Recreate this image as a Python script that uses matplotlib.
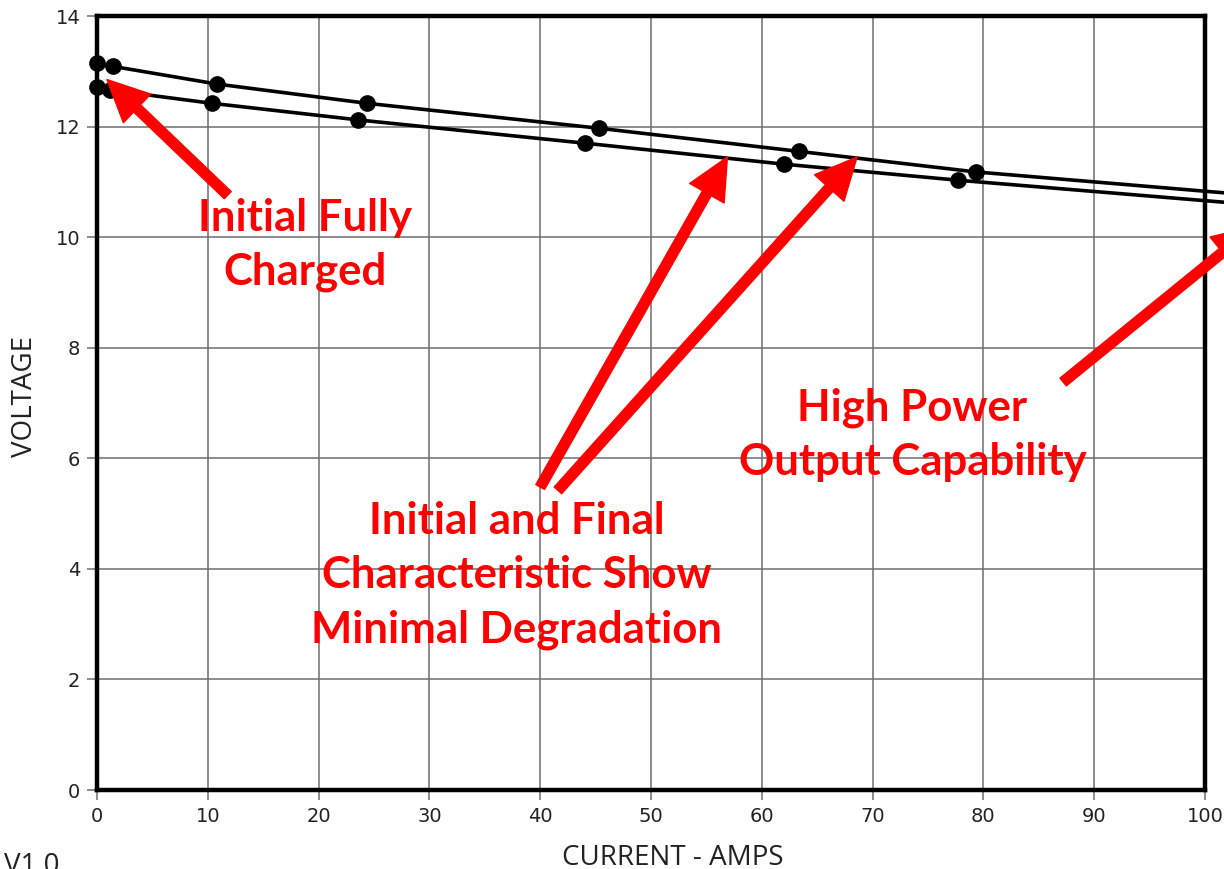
import matplotlib
matplotlib.use('Agg')
import matplotlib.pyplot as plt
from matplotlib.patches import Rectangle

# initial (fully charged) characteristic
current_initial = [0.0, 1.4, 10.8, 24.4, 45.3, 63.4, 79.3]
voltage_initial = [13.15, 13.09, 12.77, 12.42, 11.97, 11.55, 11.18]
# final characteristic
current_final = [0.0, 1.2, 10.4, 23.6, 44.0, 62.0, 77.7]
voltage_final = [12.71, 12.66, 12.42, 12.12, 11.70, 11.32, 11.03]
# curve continuation past the last measured point
ext_current = [103.0]
ext_initial = [10.78]
ext_final = [10.61]

x_ticks = list(range(0, 101, 10))
y_ticks = list(range(0, 15, 2))

RED = '#ff0000'
ANNOT_FONT = ['Lato', 'DejaVu Sans']
LABEL_FONT = ['Open Sans', 'DejaVu Sans']

fig = plt.figure(figsize=(12.24, 8.69), dpi=100)
ax = fig.add_axes([97 / 1224, 79 / 869, 1108 / 1224, 774 / 869])

ax.set_xlim(0, 100)
ax.set_ylim(0, 14)
ax.set_xticks(x_ticks)
ax.set_yticks(y_ticks)
ax.grid(True, color='#6e6e6e', linewidth=1.1, zorder=0)
ax.tick_params(direction='out', length=7, width=1.1, color='#6e6e6e',
               labelsize=14, labelcolor='#222222', pad=5)
for sp in ax.spines.values():
    sp.set_linewidth(3.2)
    sp.set_color('black')
    sp.set_zorder(6)

# white boxes behind the annotation texts (they break the grid)
for (x0, y0, w, h) in [(8.2, 8.64, 22.5, 2.44), (56.7, 5.12, 32.7, 2.44), (18.3, 1.95, 38.6, 3.6)]:
    ax.add_patch(Rectangle((x0, y0), w, h, facecolor='white', edgecolor='none', zorder=1))

for xs, ys, ext in [(current_initial, voltage_initial, ext_initial),
                    (current_final, voltage_final, ext_final)]:
    ax.plot(xs + ext_current, ys + ext, color='black', linewidth=2.6,
            clip_on=False, zorder=4, solid_capstyle='butt')
    ax.plot(xs, ys, linestyle='none', marker='o', markersize=11,
            color='black', clip_on=False, zorder=5)

txt_kw = dict(color=RED, fontsize=31.5, fontweight='bold', family=ANNOT_FONT,
              ha='center', va='center', linespacing=1.42, zorder=3)
ax.text(18.8, 9.86, 'Initial Fully\nCharged', **txt_kw)
ax.text(73.6, 6.42, 'High Power\nOutput Capability', **txt_kw)
ax.text(37.9, 3.88, 'Initial and Final\nCharacteristic Show\nMinimal Degradation', **txt_kw)

arrow_kw = dict(arrowstyle='simple,head_length=1.0,head_width=0.95,tail_width=0.24',
                mutation_scale=30, color=RED, shrinkA=0, shrinkB=0)
arrows = [((11.8, 10.76), (0.9, 12.85)),
          ((40.0, 5.48), (56.9, 11.45)),
          ((41.6, 5.42), (68.6, 11.45)),
          ((87.2, 7.38), (104.5, 10.2))]
for tail, tip in arrows:
    ax.annotate('', xy=tip, xytext=tail, arrowprops=arrow_kw,
                annotation_clip=False, zorder=7)

ax.set_xlabel('CURRENT - AMPS', fontsize=20, color='#222222', family=LABEL_FONT, va='center')
ax.xaxis.set_label_coords(0.52, -0.088)
ax.set_ylabel('VOLTAGE', fontsize=20, color='#222222', family=LABEL_FONT, va='center')
ax.yaxis.set_label_coords(-0.065, 0.509)

fig.text(0.003, 0.0196, 'V1.0', fontsize=20, color='#222222', family=LABEL_FONT,
         ha='left', va='top')

fig.savefig('out.png', dpi=100)
